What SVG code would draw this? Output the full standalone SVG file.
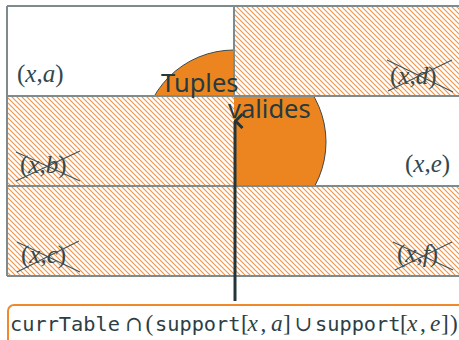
<svg xmlns="http://www.w3.org/2000/svg" width="459" height="340" viewBox="0 0 459 340">
<style>
.lbl{font-family:"Liberation Serif","DejaVu Serif",serif;font-size:25px;fill:#34474c}
.it{font-style:italic}
.cross{stroke:#3d5055;stroke-width:1.1;fill:none}
.grid{stroke:#7d8b8c;stroke-width:2;fill:none}
.hatch{fill:url(#hatch)}
.big{font-family:"Noto Sans","Open Sans",sans-serif;font-size:25.5px;fill:#263a3f}
.mono{font-family:"DejaVu Sans Mono","Liberation Mono",monospace;font-size:20.3px}
.math{font-family:"Liberation Serif","DejaVu Serif",serif;font-size:23.3px}
.op{font-family:"DejaVu Serif","Liberation Serif",serif;font-size:21px}
</style>
<defs>
<pattern id="hatch" patternUnits="userSpaceOnUse" width="5" height="5">
<rect width="5" height="5" fill="#ffffff"/>
<path d="M-1,-1 L6,6 M-1,4 L1,6 M4,-1 L6,1" stroke="#f0944a" stroke-width="1.1"/>
</pattern>
<clipPath id="whiteCells">
<rect x="7" y="6" width="227" height="90"/>
<rect x="234" y="96" width="230" height="90"/>
</clipPath>
<marker id="chev" viewBox="0 0 16 10" refX="8" refY="1.5" markerWidth="16" markerHeight="10" markerUnits="userSpaceOnUse" orient="auto-start-reverse">
<path d="M1,9 L8,2 L15,9" fill="none" stroke="#233539" stroke-width="3"/>
</marker>
</defs>

<g id="cells">
<rect x="7" y="6" width="227" height="90" fill="#ffffff"/>
<rect x="234" y="6" width="230" height="90" class="hatch"/>
<rect x="7" y="96" width="227" height="90" class="hatch"/>
<rect x="234" y="96" width="230" height="90" fill="#ffffff"/>
<rect x="7" y="186" width="457" height="90" class="hatch"/>
</g>

<g id="circle" clip-path="url(#whiteCells)">
<circle cx="234" cy="142" r="92" fill="#ec8520" stroke="#3d4a4a" stroke-width="1"/>
</g>

<g id="grid">
<path class="grid" d="M7,6 H464 M7,6 V276 M234,6 V96 M7,96 H464 M7,186 H464 M7,276 H464"/>
</g>

<g id="node-xa"><text class="lbl" x="17" y="82">(<tspan class="it">x</tspan>,<tspan class="it">a</tspan>)</text></g>
<g id="node-xd"><text class="lbl" x="390" y="84">(<tspan class="it">x</tspan>,<tspan class="it">d</tspan>)</text>
<path class="cross" d="M387,60 L453,92 M388,91 L452,60"/></g>
<g id="node-xb"><text class="lbl" x="20" y="173">(<tspan class="it">x</tspan>,<tspan class="it">b</tspan>)</text>
<path class="cross" d="M16,152 L80,181 M16,181 L80,151"/></g>
<g id="node-xe"><text class="lbl" x="405" y="172">(<tspan class="it">x</tspan>,<tspan class="it">e</tspan>)</text></g>
<g id="node-xc"><text class="lbl" x="21" y="263">(<tspan class="it">x</tspan>,<tspan class="it">c</tspan>)</text>
<path class="cross" d="M17,242 L80,272 M17,272 L79,241"/></g>
<g id="node-xf"><text class="lbl" x="397" y="262">(<tspan class="it">x</tspan>,<tspan class="it">f</tspan>)</text>
<path class="cross" d="M393,242 L453,270 M395,270 L452,242"/></g>

<g id="node-tuples">
<text class="big" x="161" y="92">Tuples</text>
<text class="big" x="228" y="118">valides</text>
</g>

<g id="connectors">
<line x1="235" y1="301" x2="235" y2="121" stroke="#233539" stroke-width="3" marker-end="url(#chev)"/>
</g>

<g id="node-formula">
<rect x="8" y="305" width="460" height="50" rx="6" fill="#ffffff" stroke="#ee8a2a" stroke-width="2"/>
<text y="331" fill="#2d3e44">
<tspan class="mono" x="10">currTable</tspan>
<tspan class="op" x="125">∩</tspan>
<tspan class="math" x="145.5">(</tspan>
<tspan class="mono" x="155">support</tspan>
<tspan class="math" x="241">[</tspan><tspan class="math it" x="247.5">x</tspan><tspan class="math" x="260.5">,</tspan><tspan class="math it" x="271">a</tspan><tspan class="math" x="283">]</tspan>
<tspan class="op" x="294.5">∪</tspan>
<tspan class="mono" x="315">support</tspan>
<tspan class="math" x="400">[</tspan><tspan class="math it" x="407">x</tspan><tspan class="math" x="420">,</tspan><tspan class="math it" x="430">e</tspan><tspan class="math" x="441">]</tspan><tspan class="math" x="450">)</tspan>
</text>
</g>
</svg>
